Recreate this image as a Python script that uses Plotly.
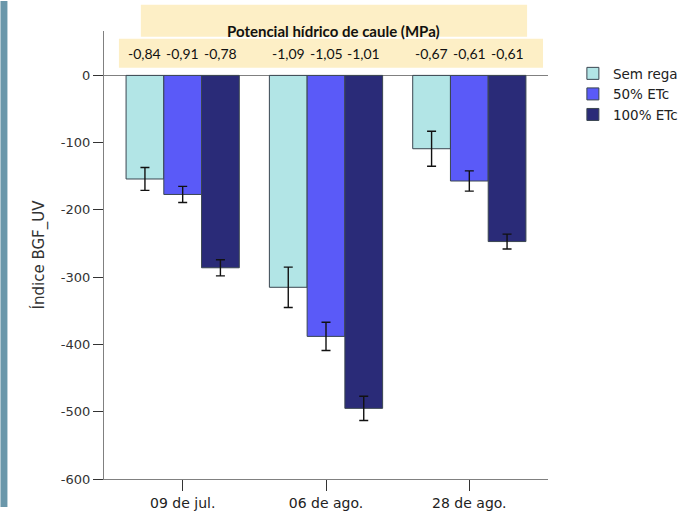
import plotly.graph_objects as go

categories = ["09 de jul.", "06 de ago.", "28 de ago."]
series_names = ["Sem rega", "50% ETc", "100% ETc"]
values = {
    "Sem rega": [-154, -315, -109],
    "50% ETc": [-177, -388, -157],
    "100% ETc": [-286, -495, -247],
}
errors = {
    "Sem rega": [17, 30, 26],
    "50% ETc": [12, 21, 15],
    "100% ETc": [12, 18, 11],
}
potencial = {
    "Sem rega": ["-0,84", "-1,09", "-0,67"],
    "50% ETc": ["-0,91", "-1,05", "-0,61"],
    "100% ETc": ["-0,78", "-1,01", "-0,61"],
}
y_ticks = [0, -100, -200, -300, -400, -500, -600]

colors = {"Sem rega": "#b2e5e6", "50% ETc": "#5a5af8", "100% ETc": "#2a2b78"}

H = 523 - 31 - 29
W = 695 - 104 - 145
def px_x(p):
    return (p - 104) / W
def px_y(p):
    return (494 - p) / H

fig = go.Figure()
xs = list(range(len(categories)))
for name in series_names:
    fig.add_trace(go.Bar(
        x=xs, y=values[name], name=name,
        marker=dict(color=colors[name], line=dict(color="#3a4650", width=1)),
        error_y=dict(type="data", array=errors[name], visible=True,
                     color="#111111", thickness=1.4, width=4.5),
    ))

# value labels (stem water potential) above each bar
bar_w = 0.79 / 3
for j, name in enumerate(series_names):
    for i, lab in enumerate(potencial[name]):
        fig.add_annotation(x=i + (j - 1) * bar_w, y=px_y(54), xref="x", yref="paper",
                           text=lab, showarrow=False, yanchor="middle",
                           font=dict(family="Lato", size=14, color="#111111"))

fig.add_annotation(x=px_x(335), y=px_y(20), xref="paper", yref="paper",
                   text="<b>Potencial hídrico de caule (MPa)</b>", showarrow=False,
                   font=dict(family="Lato", size=15, color="#111111"))

fig.add_shape(type="rect", xref="paper", yref="paper",
              x0=px_x(141), x1=px_x(529), y0=px_y(37), y1=px_y(4),
              line=dict(width=0), fillcolor="#fdefc6", layer="below")
fig.add_shape(type="rect", xref="paper", yref="paper",
              x0=px_x(119), x1=px_x(545), y0=px_y(69), y1=px_y(39),
              line=dict(width=0), fillcolor="#fdefc6", layer="below")
# left decorative strip
fig.add_shape(type="rect", xref="paper", yref="paper",
              x0=px_x(0), x1=px_x(7), y0=px_y(523), y1=px_y(0),
              line=dict(width=0), fillcolor="#6a97aa", layer="below")

fig.update_layout(
    width=695, height=523,
    margin=dict(l=104, r=145, t=31, b=29),
    paper_bgcolor="white", plot_bgcolor="white",
    barmode="group", bargap=0.21, bargroupgap=0,
    showlegend=True,
    legend=dict(x=px_x(575), y=px_y(59), xanchor="left", yanchor="top",
                font=dict(family="DejaVu Sans", size=13.5, color="#222222"),
                tracegroupgap=0, itemwidth=30, bgcolor="rgba(0,0,0,0)"),
    font=dict(family="DejaVu Sans", size=13, color="#333333"),
)

fig.update_xaxes(
    range=[-0.549, 2.549], tickvals=xs, ticktext=categories,
    showline=True, linecolor="#808080", linewidth=1.2,
    ticks="outside", ticklen=11, tickcolor="#333333", tickwidth=1.2,
    showgrid=False, zeroline=False,
    tickfont=dict(family="DejaVu Sans", size=14, color="#222222"),
)
fig.update_yaxes(
    range=[-600, 66], tickvals=y_ticks,
    ticktext=[str(v) for v in y_ticks],
    showline=True, linecolor="#808080", linewidth=1.2,
    ticks="outside", ticklen=10, tickcolor="#333333", tickwidth=1.2,
    showgrid=False, zeroline=True, zerolinecolor="#808080", zerolinewidth=1.2,
    tickfont=dict(family="DejaVu Sans", size=13, color="#333333"),
    title=dict(text="Índice BGF_UV", font=dict(family="DejaVu Sans", size=15, color="#333333"),
               standoff=12),
)

css = ("var s=document.createElement('style');"
       "s.textContent='html,body{margin:0;padding:0;overflow:hidden;}';"
       "document.head.appendChild(s);")
fig.write_html("out.html", config={"displayModeBar": False}, post_script=css)
